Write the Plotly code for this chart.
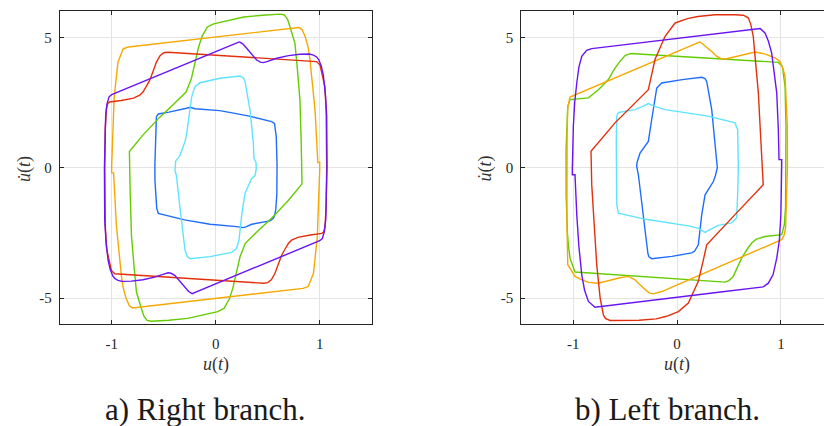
import plotly.graph_objects as go

W, H = 824, 426

# ---------------- panel a) Right branch ----------------
a_blue_u = [-0.57, -0.552, -0.45, -0.343, -0.28, -0.247, -0.2, 0.04, 0.3, 0.538, 0.565, 0.582, 0.59, 0.588, 0.578, 0.565, 0.554, 0.522, 0.346, 0.29, 0.265, 0.202, -0.055, -0.3, -0.538, -0.552, -0.567, -0.584, -0.585, -0.58, -0.57]
a_blue_v = [1.96, 2.06, 2.13, 2.21, 2.28, 2.32, 2.26, 2.19, 2.0, 1.77, 1.7, 1.2, 0.1, -1.0, -1.6, -1.85, -1.94, -2.04, -2.17, -2.27, -2.3, -2.26, -2.17, -2.0, -1.77, -1.75, -1.56, -0.5, 0.1, 1.0, 1.96]

a_cyan_u = [-0.2, -0.151, 0.041, 0.234, 0.265, 0.282, 0.33, 0.362, 0.368, 0.388, 0.39, 0.378, 0.346, 0.282, 0.25, 0.225, 0.2, 0.154, -0.055, -0.247, -0.275, -0.295, -0.343, -0.37, -0.378, -0.391, -0.39, -0.385, -0.346, -0.295, -0.279, -0.231, -0.2]
a_cyan_v = [3.11, 3.26, 3.43, 3.52, 3.45, 3.3, 2.21, 0.94, 0.35, 0.2, -0.05, -0.3, -0.41, -0.98, -1.81, -2.75, -3.1, -3.25, -3.41, -3.49, -3.4, -3.16, -1.56, -0.6, -0.3, -0.1, 0.1, 0.25, 0.45, 1.0, 1.32, 2.72, 3.11]

a_green_u = [-0.02, 0.1, 0.27, 0.45, 0.62, 0.66, 0.69, 0.714, 0.74, 0.762, 0.785, 0.81, 0.822, 0.828, 0.83, 0.70, 0.54, 0.40, 0.285, 0.235, 0.2, 0.165, 0.13, 0.08, 0.02, -0.1, -0.27, -0.45, -0.62, -0.66, -0.69, -0.714, -0.74, -0.762, -0.785, -0.81, -0.822, -0.828, -0.83, -0.70, -0.54, -0.40, -0.285, -0.235, -0.2, -0.165, -0.13, -0.08, -0.02]
a_green_v = [5.52, 5.63, 5.78, 5.85, 5.89, 5.86, 5.7, 5.41, 5.1, 4.77, 3.8, 2.6, 1.0, -0.3, -0.62, -1.25, -1.93, -2.45, -2.9, -3.4, -4.0, -4.62, -5.05, -5.4, -5.52, -5.63, -5.78, -5.85, -5.89, -5.86, -5.7, -5.41, -5.1, -4.77, -3.8, -2.6, -1.0, 0.3, 0.62, 1.25, 1.93, 2.45, 2.9, 3.4, 4.0, 4.62, 5.05, 5.4, 5.52]

a_orange_u = [-0.84, -0.6, -0.2, 0.2, 0.6, 0.80, 0.83, 0.86, 0.89, 0.907, 0.955, 0.98, 0.982, 1.0, 1.0, 0.99, 0.977, 0.94, 0.91, 0.89, 0.84, 0.6, 0.2, -0.2, -0.6, -0.80, -0.83, -0.86, -0.89, -0.907, -0.955, -0.98, -0.982, -1.0, -1.0, -0.99, -0.977, -0.94, -0.91, -0.89, -0.84]
a_orange_v = [4.63, 4.74, 4.92, 5.1, 5.29, 5.38, 5.3, 5.03, 4.6, 4.13, 2.21, 0.5, 0.2, 0.2, -0.1, -1.2, -2.65, -4.05, -4.4, -4.56, -4.63, -4.74, -4.92, -5.1, -5.29, -5.38, -5.3, -5.03, -4.6, -4.13, -2.21, -0.5, -0.2, -0.2, 0.1, 1.2, 2.65, 4.05, 4.4, 4.56, 4.63]

a_red_u = [-0.46, 0.97, 1.003, 1.03, 1.05, 1.062, 1.067, 1.062, 1.05, 1.035, 1.02, 0.91, 0.79, 0.73, 0.70, 0.67, 0.635, 0.6, 0.57, 0.535, 0.5, 0.46, -0.97, -1.003, -1.03, -1.05, -1.062, -1.067, -1.062, -1.05, -1.035, -1.02, -0.91, -0.79, -0.73, -0.70, -0.67, -0.635, -0.6, -0.57, -0.535, -0.5, -0.46]
a_red_v = [4.43, 4.07, 3.94, 3.5, 3.1, 2.21, 0.0, -1.5, -2.3, -2.48, -2.52, -2.58, -2.67, -2.78, -2.9, -3.1, -3.35, -3.72, -4.05, -4.3, -4.41, -4.43, -4.07, -3.94, -3.5, -3.1, -2.21, 0.0, 1.5, 2.3, 2.48, 2.52, 2.58, 2.67, 2.78, 2.9, 3.1, 3.35, 3.72, 4.05, 4.3, 4.41, 4.43]

a_purple_u = [0.227, 0.26, 0.298, 0.35, 0.394, 0.43, 0.458, 0.5, 0.587, 0.7, 0.81, 0.9, 0.94, 0.97, 0.99, 1.015, 1.035, 1.055, 1.067, 1.07, 1.066, 1.058, 1.045, 1.025, 1.0, -0.227, -0.26, -0.298, -0.35, -0.394, -0.43, -0.458, -0.5, -0.587, -0.7, -0.81, -0.9, -0.94, -0.97, -0.99, -1.015, -1.035, -1.055, -1.067, -1.07, -1.066, -1.058, -1.045, -1.025, -1.0, 0.227]
a_purple_v = [4.83, 4.75, 4.58, 4.33, 4.13, 4.05, 4.03, 4.08, 4.2, 4.3, 4.35, 4.36, 4.32, 4.25, 4.15, 3.9, 3.55, 2.8, 2.0, 0.0, -1.2, -2.0, -2.45, -2.72, -2.8, -4.83, -4.75, -4.58, -4.33, -4.13, -4.05, -4.03, -4.08, -4.2, -4.3, -4.35, -4.36, -4.32, -4.25, -4.15, -3.9, -3.55, -2.8, -2.0, 0.0, 1.2, 2.0, 2.45, 2.72, 2.8, 4.83]

# ---------------- panel b) Left branch ----------------
b_cyan_u = [-0.565, -0.404, -0.33, -0.276, -0.22, -0.115, 0.3, 0.558, 0.584, 0.59, 0.584, 0.574, 0.526, 0.398, 0.33, 0.27, 0.205, 0.109, -0.3, -0.565, -0.58, -0.587, -0.585, -0.58, -0.565]
b_cyan_v = [2.12, 2.23, 2.35, 2.46, 2.36, 2.23, 1.98, 1.72, 1.46, 0.0, -1.0, -1.93, -2.12, -2.21, -2.35, -2.48, -2.32, -2.23, -1.98, -1.74, -1.42, 0.0, 1.0, 1.97, 2.12]

b_blue_u = [-0.195, -0.147, 0.05, 0.238, 0.27, 0.286, 0.334, 0.366, 0.375, 0.388, 0.388, 0.37, 0.35, 0.27, 0.238, 0.205, 0.17, 0.141, -0.05, -0.244, -0.27, -0.28, -0.324, -0.36, -0.372, -0.388, -0.385, -0.356, -0.276, -0.244, -0.195]
b_blue_v = [3.06, 3.25, 3.38, 3.47, 3.42, 3.31, 2.23, 0.95, 0.5, 0.2, 0.0, -0.3, -0.53, -1.04, -1.8, -2.96, -3.2, -3.27, -3.4, -3.49, -3.42, -3.3, -1.8, -0.8, -0.27, 0.05, 0.2, 0.56, 1.01, 1.84, 3.06]

b_red_u = [-0.019, 0.1, 0.2, 0.366, 0.558, 0.638, 0.686, 0.71, 0.734, 0.76, 0.783, 0.805, 0.821, 0.83, 0.558, 0.286, 0.25, 0.205, 0.109, 0.013, -0.1, -0.2, -0.366, -0.558, -0.645, -0.69, -0.709, -0.74, -0.773, -0.80, -0.821, -0.828, -0.597, -0.276, -0.25, -0.212, -0.115, -0.019]
b_red_v = [5.55, 5.72, 5.8, 5.87, 5.87, 5.85, 5.75, 5.5, 5.04, 4.0, 2.87, 1.2, -0.08, -0.65, -1.8, -2.96, -3.6, -4.36, -5.19, -5.52, -5.7, -5.8, -5.85, -5.87, -5.86, -5.78, -5.64, -5.0, -3.72, -2.0, -0.65, 0.63, 1.72, 2.99, 3.5, 4.15, 5.04, 5.55]

b_purple_u = [-0.821, -0.4, 0.0, 0.4, 0.8,
              0.847, 0.88, 0.911, 0.94, 0.96, 0.975, 0.982, 1.008, 1.008, 1.0, 0.985, 0.96, 0.925, 0.879, 0.83,
              0.4, 0.0, -0.4, -0.79,
              -0.853, -0.89, -0.917, -0.945, -0.965, -0.982, -1.008, -1.008, -0.998, -0.985, -0.965, -0.945, -0.917, -0.87, -0.821]
b_purple_v = [4.57, 4.77, 4.96, 5.15, 5.34,
              5.17, 4.85, 4.4, 3.6, 2.87, 1.5, 0.31, 0.31, 0.12, -1.8, -2.8, -3.47, -4.1, -4.43, -4.57,
              -4.78, -4.97, -5.16, -5.35,
              -5.13, -4.7, -4.11, -3.0, -1.8, -0.27, -0.27, -0.08, 1.59, 2.5, 3.25, 3.85, 4.27, 4.5, 4.57]

b_green_u = [-0.452, 0.975, 1.014, 1.03, 1.04, 1.049, 1.05, 1.045, 1.033, 1.008, 0.847, 0.76, 0.719, 0.68, 0.622, 0.58, 0.542, 0.5, 0.462, -0.982, -1.03, -1.045, -1.055, -1.068, -1.068, -1.052, -1.03, -0.853, -0.757, -0.661, -0.6, -0.549, -0.5, -0.452]
b_green_v = [4.38, 4.04, 3.89, 3.5, 3.12, 1.59, 0.0, -1.5, -2.19, -2.57, -2.64, -2.75, -2.89, -3.1, -3.47, -3.85, -4.17, -4.33, -4.39, -4.0, -3.47, -3.0, -2.5, -1.0, 0.69, 2.35, 2.61, 2.68, 2.99, 3.38, 3.8, 4.08, 4.3, 4.38]

b_orange_u = [0.221, 0.27, 0.334, 0.38, 0.43, 0.478, 0.6, 0.751, 0.85, 0.943, 0.991, 1.02, 1.04, 1.062, 1.063, 1.056, 1.045, 1.033, 1.008, -0.147, -0.228, -0.27, -0.308, -0.36, -0.404, -0.468, -0.55, -0.757, -0.85, -0.917, -0.982, -1.02, -1.052, -1.06, -1.062, -1.058, -1.052, -1.03, 0.221]
b_orange_v = [4.83, 4.68, 4.46, 4.28, 4.17, 4.18, 4.3, 4.44, 4.36, 4.21, 4.08, 3.8, 3.5, 1.59, 0.0, -1.16, -2.3, -2.57, -2.76, -4.75, -4.84, -4.8, -4.68, -4.48, -4.3, -4.17, -4.22, -4.43, -4.4, -4.3, -4.17, -3.95, -3.72, -2.0, 0.0, 1.2, 2.3, 2.71, 4.83]

x_tickvals = [-1, 0, 1]
x_ticktext = ["-1", "0", "1"]
y_tickvals = [-5, 0, 5]
y_ticktext = ["-5", "0", "5"]

BLUE = "#1f6cff"
CYAN = "#5ee4ff"
GREEN = "#64cc00"
ORANGE = "#f5a800"
RED = "#e3300c"
PURPLE = "#6a14f5"

panel_a = [(a_blue_u, a_blue_v, BLUE), (a_cyan_u, a_cyan_v, CYAN), (a_green_u, a_green_v, GREEN),
           (a_orange_u, a_orange_v, ORANGE), (a_red_u, a_red_v, RED), (a_purple_u, a_purple_v, PURPLE)]
panel_b = [(b_blue_u, b_blue_v, BLUE), (b_cyan_u, b_cyan_v, CYAN), (b_green_u, b_green_v, GREEN),
           (b_orange_u, b_orange_v, ORANGE), (b_red_u, b_red_v, RED), (b_purple_u, b_purple_v, PURPLE)]

fig = go.Figure()
for u, v, c in panel_a:
    fig.add_trace(go.Scatter(x=u, y=v, mode="lines", line=dict(color=c, width=1.4),
                             xaxis="x", yaxis="y", showlegend=False, hoverinfo="skip"))
for u, v, c in panel_b:
    fig.add_trace(go.Scatter(x=u, y=v, mode="lines", line=dict(color=c, width=1.4),
                             xaxis="x2", yaxis="y2", showlegend=False, hoverinfo="skip"))

AX = "#262626"
common = dict(showgrid=True, gridcolor="#e4e4e4", gridwidth=1, zeroline=False,
              showline=True, linecolor=AX, linewidth=1, ticks="inside", ticklen=4,
              tickcolor=AX, tickfont=dict(family="Liberation Serif", size=15, color=AX))

ydom = [1 - 324.1 / H, 1 - 11.3 / H]
fig.update_layout(
    width=W, height=H, margin=dict(l=0, r=0, t=0, b=0),
    paper_bgcolor="white", plot_bgcolor="white",
    xaxis=dict(domain=[59.7 / W, 371.7 / W], range=[-1.5, 1.5], tickvals=x_tickvals, ticktext=x_ticktext,
               mirror="ticks", anchor="y", ticklabelstandoff=6, **common),
    yaxis=dict(domain=ydom, range=[-6, 6], tickvals=y_tickvals, ticktext=y_ticktext,
               mirror="ticks", anchor="x", ticklabelstandoff=4, **common),
    xaxis2=dict(domain=[521.2 / W, 1.0], range=[-1.5, 1.415], tickvals=x_tickvals, ticktext=x_ticktext,
                mirror="ticks", anchor="y2", ticklabelstandoff=6, **common),
    yaxis2=dict(domain=ydom, range=[-6, 6], tickvals=y_tickvals, ticktext=y_ticktext,
                mirror=False, anchor="x2", ticklabelstandoff=4, **common),
)

def ann(text, px, py, size, angle=0, color="#333333"):
    fig.add_annotation(text=text, x=px / W, y=1 - py / H, xref="paper", yref="paper",
                       xanchor="center", yanchor="middle", showarrow=False, textangle=angle,
                       font=dict(family="Liberation Serif", size=size, color=color))

ann("<i>u</i>(<i>t</i>)", 215.7, 364, 18)
ann("<i>u</i>(<i>t</i>)", 677, 364, 18)
ann("<i>u\u0307</i>(<i>t</i>)", 24, 169, 18, angle=-90)
ann("<i>u\u0307</i>(<i>t</i>)", 484.5, 169, 18, angle=-90)
ann("a) Right branch.", 205.5, 409, 31, color="#1a1a1a")
ann("b) Left branch.", 667.5, 409, 31, color="#1a1a1a")

fig.write_html("out.html", config={"displayModeBar": False},
               post_script="document.body.style.margin='0px';document.body.style.overflow='hidden';")
